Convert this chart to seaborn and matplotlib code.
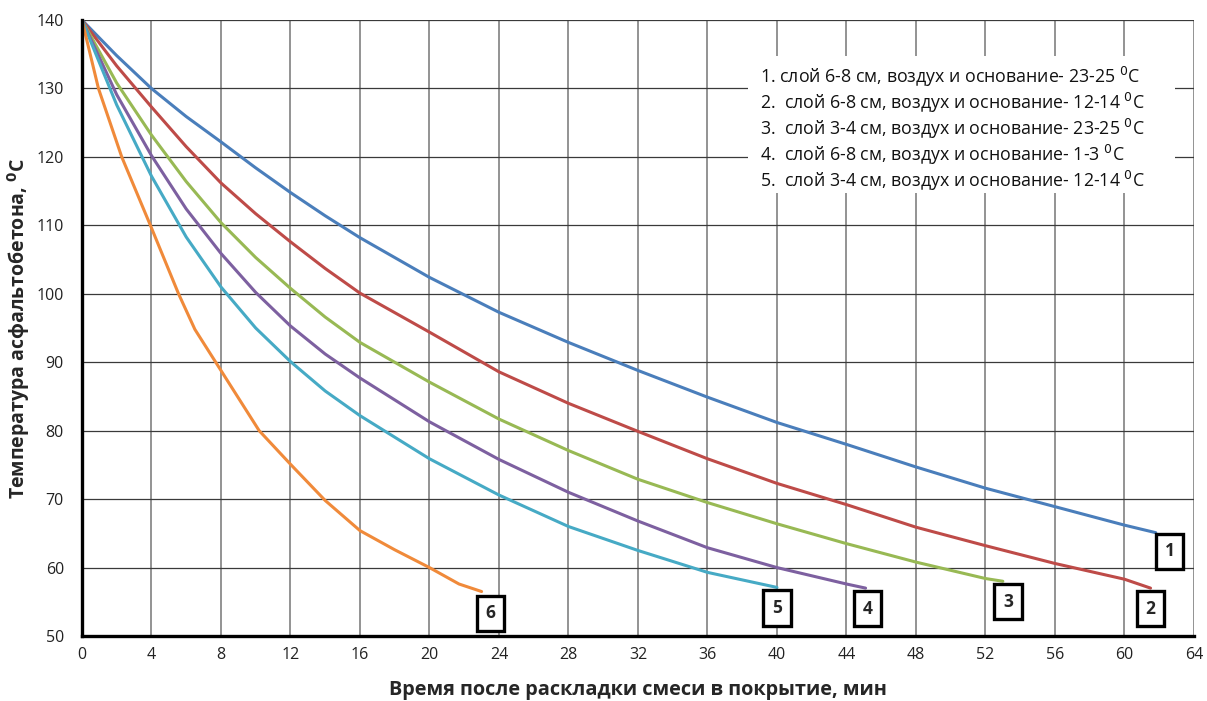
import matplotlib
matplotlib.use("Agg")
import matplotlib.pyplot as plt
import matplotlib.patches as mpatches
import numpy as np
import pandas as pd
import seaborn as sns

# Cooling curves of asphalt concrete after placement
t1 = [0, 2, 4, 6, 8, 10, 12, 14, 16, 20, 24, 28, 32, 36, 40, 44, 48, 52, 56, 60, 61.8]
T1 = [140, 134.8, 130.0, 125.9, 122.2, 118.4, 114.8, 111.4, 108.2, 102.4, 97.3, 92.9, 88.8,
      84.9, 81.2, 78.0, 74.7, 71.6, 68.9, 66.2, 65.1]

t2 = [0, 2, 4, 6, 8, 10, 12, 14, 16, 20, 24, 28, 32, 36, 40, 44, 48, 52, 56, 60, 61.5]
T2 = [140, 133.3, 127.3, 121.5, 116.2, 111.7, 107.6, 103.7, 100.1, 94.4, 88.6, 84.0, 79.9,
      75.9, 72.3, 69.2, 65.9, 63.2, 60.6, 58.3, 57.0]

t3 = [0, 2, 4, 6, 8, 10, 12, 14, 16, 20, 24, 28, 32, 36, 40, 44, 48, 52, 53]
T3 = [140, 130.8, 123.2, 116.4, 110.4, 105.3, 100.8, 96.6, 92.9, 87.1, 81.7, 77.1, 72.9,
      69.5, 66.4, 63.5, 60.8, 58.4, 58.0]

t4 = [0, 2, 4, 6, 8, 10, 12, 14, 16, 20, 24, 28, 32, 36, 40, 44, 45.1]
T4 = [140, 129.1, 120.2, 112.4, 105.9, 100.2, 95.3, 91.2, 87.7, 81.3, 75.8, 71.0, 66.8,
      62.9, 60.0, 57.6, 57.0]

t5 = [0, 2, 4, 6, 8, 10, 12, 14, 16, 20, 24, 28, 32, 36, 40]
T5 = [140, 127.6, 117.2, 108.3, 101.0, 95.0, 90.1, 85.8, 82.2, 75.9, 70.6, 66.0, 62.5, 59.3, 57.1]

t6 = [0, 0.95, 2.29, 3.94, 5.56, 6.5, 8, 10.2, 12, 14, 16, 18, 20, 21.7, 23]
T6 = [140, 130, 120, 110, 100, 94.8, 88.8, 80.0, 75.1, 69.8, 65.4, 62.6, 60.0, 57.6, 56.5]

series_ids = ["1", "2", "3", "4", "5", "6"]
times = [t1, t2, t3, t4, t5, t6]
temps = [T1, T2, T3, T4, T5, T6]

legend_lines = [
    "1. слой 6-8 см, воздух и основание- 23-25 $^{0}$C",
    "2.  слой 6-8 см, воздух и основание- 12-14 $^{0}$C",
    "3.  слой 3-4 см, воздух и основание- 23-25 $^{0}$C",
    "4.  слой 6-8 см, воздух и основание- 1-3 $^{0}$C",
    "5.  слой 3-4 см, воздух и основание- 12-14 $^{0}$C",
]

x_ticks = list(range(0, 65, 4))
y_ticks = list(range(50, 141, 10))

xlabel = "Время после раскладки смеси в покрытие, мин"
ylabel = "Температура асфальтобетона, $^{\\mathbf{0}}$C"

colors = ["#4A7EBB", "#BE4B48", "#98B954", "#7D60A0", "#46AAC5", "#F08A3A"]

df = pd.concat(
    [pd.DataFrame({"t": t, "T": T, "series": s}) for s, t, T in zip(series_ids, times, temps)],
    ignore_index=True,
)

sns.set_theme(style="white")
plt.rcParams["font.family"] = ["Open Sans", "DejaVu Sans"]
plt.rcParams["mathtext.fontset"] = "dejavusans"

fig = plt.figure(figsize=(12.07, 7.01), dpi=100)
ax = fig.add_axes([0.0679, 0.0927, 0.9213, 0.8787])

sns.lineplot(data=df, x="t", y="T", hue="series", palette=colors, sort=False,
             estimator=None, linewidth=2.2, legend=False, ax=ax, zorder=3)
for line in ax.get_lines():
    line.set_solid_joinstyle("round")

ax.set_xlim(0, 64)
ax.set_ylim(50, 140)
ax.set_xticks(x_ticks)
ax.set_yticks(y_ticks)

ax.xaxis.grid(True, color="#8a8a8a", linewidth=1.3)
ax.yaxis.grid(True, color="#3a3a3a", linewidth=0.9)
ax.set_axisbelow(True)

for side in ("top", "right"):
    ax.spines[side].set_visible(False)
for side in ("left", "bottom"):
    ax.spines[side].set_color("black")
    ax.spines[side].set_linewidth(2.4)
    ax.spines[side].set_zorder(4)

ax.tick_params(axis="both", direction="inout", length=8, width=2.2, color="black",
               labelsize=11.5, labelcolor="#222222")
ax.tick_params(axis="x", pad=4)
ax.tick_params(axis="y", pad=9)

ax.set_xlabel(xlabel, fontsize=14.3, fontweight="bold", labelpad=12)
ax.set_ylabel(ylabel, fontsize=14, fontweight="bold", labelpad=3)

# Numbered tags just below each curve end
tag_offsets = [(0.8, -2.75), (0.0, -3.0), (0.3, -3.0), (0.1, -3.0), (0.0, -3.0), (0.5, -3.2)]
for s, t, T, (dx, dy) in zip(series_ids, times, temps, tag_offsets):
    ax.text(t[-1] + dx, T[-1] + dy, s, ha="center", va="center", fontsize=12.5,
            fontweight="bold", zorder=6,
            bbox=dict(boxstyle="square,pad=0.5", facecolor="white",
                      edgecolor="black", linewidth=2.4))

# Legend block with white background
ax.add_patch(mpatches.Rectangle((0.599, 0.719), 0.384, 0.222, transform=ax.transAxes,
                                facecolor="white", edgecolor="none", zorder=2))
legend_y = [0.9075, 0.8655, 0.8235, 0.7815, 0.7395]
for txt, yy in zip(legend_lines, legend_y):
    ax.text(0.610, yy, txt, transform=ax.transAxes, ha="left", va="center",
            fontsize=12.8, color="#111111", zorder=5)

fig.savefig("out.png", dpi=100)
